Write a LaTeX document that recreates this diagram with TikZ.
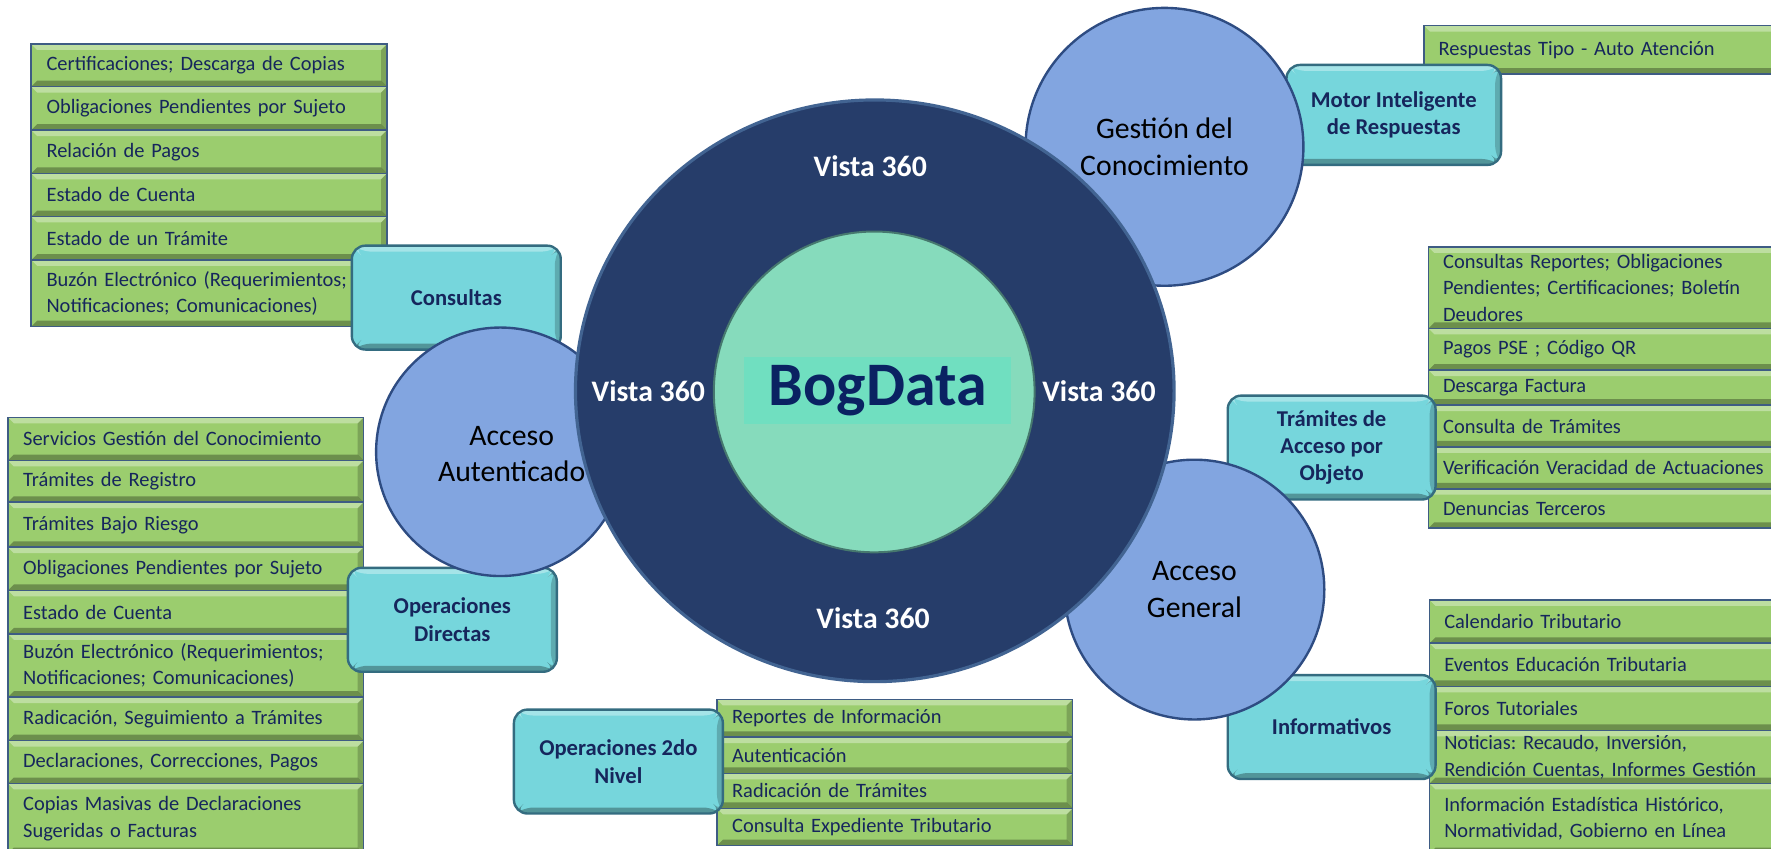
\documentclass[tikz,border=0pt]{standalone}
\usepackage{fontspec}
\setmainfont{Carlito}
\usepackage{tikz}
\usetikzlibrary{shapes.geometric}
\frenchspacing

\definecolor{itemfill}{RGB}{155,205,110}
\definecolor{itemedge}{RGB}{62,92,132}
\definecolor{groupfill}{RGB}{118,214,220}
\definecolor{groupedge}{RGB}{52,108,128}
\definecolor{discfill}{RGB}{130,165,224}
\definecolor{discedge}{RGB}{46,76,130}
\definecolor{hubfill}{RGB}{38,61,106}
\definecolor{hubedge}{RGB}{66,100,146}
\definecolor{corefill}{RGB}{134,219,188}
\definecolor{coreedge}{RGB}{70,120,110}
\definecolor{tagfill}{RGB}{112,223,192}
\definecolor{labelnavy}{RGB}{22,38,92}
\definecolor{brandnavy}{RGB}{10,34,98}

\tikzset{
    bevel/.style={path picture={
        \fill[white, opacity=.35] (path picture bounding box.north west) -- (path picture bounding box.north east)
            -- ([shift={(-1.5pt,-1.5pt)}]path picture bounding box.north east) -- ([shift={(1.5pt,-1.5pt)}]path picture bounding box.north west) -- cycle;
        \fill[black, opacity=.3] (path picture bounding box.south west) -- (path picture bounding box.south east)
            -- ([shift={(-1.5pt,1.5pt)}]path picture bounding box.south east) -- ([shift={(1.5pt,1.5pt)}]path picture bounding box.south west) -- cycle;
        \fill[black, opacity=.2] (path picture bounding box.north east) -- (path picture bounding box.south east)
            -- ([shift={(-1.5pt,1.5pt)}]path picture bounding box.south east) -- ([shift={(-1.5pt,-1.5pt)}]path picture bounding box.north east) -- cycle;
    }},
    item/.style={rectangle, anchor=north west, draw=itemedge, line width=0.4pt, fill=itemfill, bevel,
        text=labelnavy, font=\fontsize{5.15}{6.7}\selectfont, align=left, text width=2.88cm,
        inner xsep=0.135cm, inner ysep=0pt},
    wideitem/.style={item, text width=3.3cm, inner xsep=0.13cm},
    group/.style={rectangle, rounded corners=0.12cm, draw=groupedge, line width=0.6pt, fill=groupfill, bevel,
        text=labelnavy, font=\fontsize{5.7}{6.9}\selectfont\bfseries, align=center,
        minimum width=1.85cm, minimum height=0.92cm, inner sep=0pt},
    disc/.style={circle, draw=discedge, line width=0.6pt, fill=discfill, text=black,
        font=\fontsize{7.5}{9.1}\selectfont, align=center, inner sep=0pt},
    disctext/.style={text=black, font=\fontsize{7.5}{9.1}\selectfont, align=center, inner sep=0pt},
    vista/.style={text=white, font=\fontsize{7.5}{9}\selectfont\bfseries, inner sep=0pt},
}

\begin{document}
\begin{tikzpicture}
        \useasboundingbox (0, 0) rectangle (15.68, -7.51);
        \fill[white] (0, 0) rectangle (15.68, -7.51);

        % consultas
        \node[item, minimum height=0.377cm] at (0.27, -0.383) (cs1) {Certificaciones; Descarga de Copias};
        \node[item, minimum height=0.385cm] at (0.27, -0.76)  (cs2) {Obligaciones Pendientes por Sujeto};
        \node[item, minimum height=0.383cm] at (0.27, -1.145) (cs3) {Relación de Pagos};
        \node[item, minimum height=0.382cm] at (0.27, -1.528) (cs4) {Estado de Cuenta};
        \node[item, minimum height=0.385cm] at (0.27, -1.91)  (cs5) {Estado de un Trámite};
        \node[item, minimum height=0.59cm]  at (0.27, -2.295) (cs6) {Buzón Electrónico (Requerimientos;\\Notificaciones; Comunicaciones)};

        % operaciones directas
        \node[item, minimum height=0.382cm] at (0.063, -3.688) (od1) {Servicios Gestión del Conocimiento};
        \node[item, minimum height=0.37cm]  at (0.063, -4.07)  (od2) {Trámites de Registro};
        \node[item, minimum height=0.398cm] at (0.063, -4.44)  (od3) {Trámites Bajo Riesgo};
        \node[item, minimum height=0.382cm] at (0.063, -4.838) (od4) {Obligaciones Pendientes por Sujeto};
        \node[item, minimum height=0.385cm] at (0.063, -5.22)  (od5) {Estado de Cuenta};
        \node[item, minimum height=0.56cm]  at (0.063, -5.605) (od6) {Buzón Electrónico (Requerimientos;\\Notificaciones; Comunicaciones)};
        \node[item, minimum height=0.385cm] at (0.063, -6.165) (od7) {Radicación, Seguimiento a Trámites};
        \node[item, minimum height=0.38cm]  at (0.063, -6.55)  (od8) {Declaraciones, Correcciones, Pagos};
        \node[item, minimum height=0.62cm]  at (0.063, -6.93)  (od9) {Copias Masivas de Declaraciones\\Sugeridas o Facturas};

        % operaciones 2do nivel
        \node[item, minimum height=0.334cm] at (6.34, -6.186) (sn1) {Reportes de Información};
        \node[item, minimum height=0.32cm]  at (6.34, -6.52)  (sn2) {Autenticación};
        \node[item, minimum height=0.31cm]  at (6.34, -6.84)  (sn3) {Radicación de Trámites};
        \node[item, minimum height=0.33cm]  at (6.34, -7.15)  (sn4) {Consulta Expediente Tributario};

        % motor de respuestas
        \node[wideitem, minimum height=0.43cm] at (12.60, -0.22) (mr1) {Respuestas Tipo - Auto Atención};

        % tramites por objeto
        \node[wideitem, minimum height=0.72cm] at (12.64, -2.18) (to1) {Consultas Reportes; Obligaciones\\Pendientes; Certificaciones; Boletín\\Deudores};
        \node[wideitem, minimum height=0.37cm] at (12.64, -2.90) (to2) {Pagos PSE ; Código QR};
        \node[wideitem, minimum height=0.31cm] at (12.64, -3.27) (to3) {Descarga Factura};
        \node[wideitem, minimum height=0.37cm] at (12.64, -3.58) (to4) {Consulta de Trámites};
        \node[wideitem, minimum height=0.37cm] at (12.64, -3.95) (to5) {Verificación Veracidad de Actuaciones};
        \node[wideitem, minimum height=0.35cm] at (12.64, -4.32) (to6) {Denuncias Terceros};

        % informativos
        \node[wideitem, minimum height=0.383cm] at (12.65, -5.305) (in1) {Calendario Tributario};
        \node[wideitem, minimum height=0.382cm] at (12.65, -5.688) (in2) {Eventos Educación Tributaria};
        \node[wideitem, minimum height=0.39cm]  at (12.65, -6.07)  (in3) {Foros Tutoriales};
        \node[wideitem, minimum height=0.47cm]  at (12.65, -6.46)  (in4) {Noticias: Recaudo, Inversión,\\Rendición Cuentas, Informes Gestión};
        \node[wideitem, minimum height=0.62cm]  at (12.65, -6.93)  (in5) {Información Estadística Histórico,\\Normatividad, Gobierno en Línea};

        % groups
        \node[group] at (4.04, -2.635)   (consultas) {Consultas};
        \node[group] at (4.005, -5.4875) (directas) {Operaciones\\Directas};
        \node[group] at (5.475, -6.7425) (nivel) {Operaciones 2do\\Nivel};
        \node[group, minimum width=1.9cm, minimum height=0.885cm] at (12.34, -1.0175) (motor) {Motor Inteligente\\de Respuestas};
        \node[group, minimum width=1.84cm] at (11.79, -3.9625) (objeto) {Trámites de\\Acceso por\\Objeto};
        \node[group, minimum width=1.84cm] at (11.79, -6.4375) (informativos) {Informativos};

        % access discs
        \node[disc, minimum size=2.2cm, label={[disctext, xshift=0.1cm, yshift=-0.02cm]center:Acceso\\Autenticado}] at (4.43, -4.00) (autenticado) {};
        \node[disc, minimum size=2.46cm] at (10.31, -1.30) (gestion) {Gestión del\\Conocimiento};
        \node[disc, minimum size=2.3cm]  at (10.575, -5.22) (general) {Acceso\\General};

        % hub
        \node[ellipse, fill=hubfill, draw=hubedge, line width=0.8pt, minimum width=5.3cm, minimum height=5.15cm, inner sep=0pt] at (7.745, -3.46) (hub) {};
        \node[circle, fill=corefill, draw=coreedge, line width=0.5pt, minimum size=2.84cm] at (7.74, -3.47) (core) {};
        \node[fill=tagfill, minimum width=2.36cm, minimum height=0.59cm, inner sep=0pt, text=brandnavy,
            font=\fontsize{15.6}{18}\selectfont\bfseries] at (7.77, -3.455) (brand) {BogData};

        \node[vista] at (7.705, -1.47)  (vtop) {Vista 360};
        \node[vista] at (5.74, -3.46)   (vleft) {Vista 360};
        \node[vista] at (9.73, -3.46)   (vright) {Vista 360};
        \node[vista] at (7.73, -5.475)  (vbottom) {Vista 360};
    \end{tikzpicture}
\end{document}
